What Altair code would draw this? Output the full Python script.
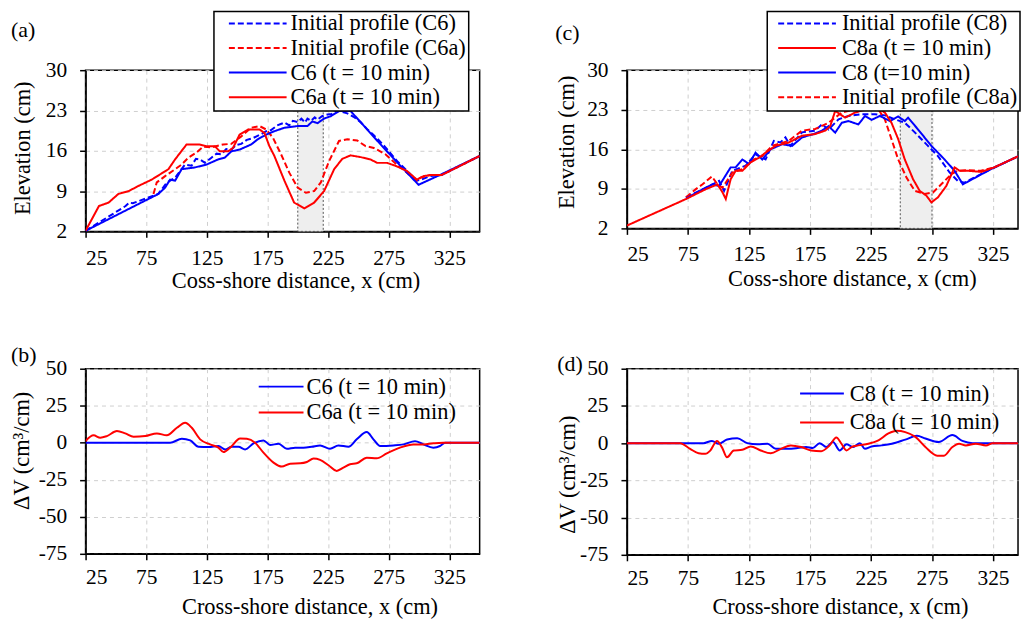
import altair as alt
import pandas as pd

FONT = "Liberation Serif"
BLUE = "#0000ff"
RED = "#ff0000"
X_TICKS = [25, 75, 125, 175, 225, 275, 325]
ELEV_TICKS = [2, 9, 16, 23, 30]
DV_TICKS = [-75, -50, -25, 0, 25, 50]

# ---------------- Panel (a) ----------------
A_X_INIT_C6 = [25, 58, 61, 64, 85, 92, 98.8, 103, 107, 112.4, 116, 119.3, 123.4, 128.8, 133, 137, 141, 145.2, 149,
               153.4, 158, 163, 169.8, 174, 178, 183, 189, 193, 196, 199.9, 203, 206, 208, 211, 214, 216.3, 220,
               224.5, 228, 232.7, 236, 240.8, 246, 251.8, 257, 262.7, 268, 276.4, 282, 287.3, 298.2, 303, 309,
               318.7, 350]
A_Y_INIT_C6 = [2.1, 6.4, 7.0, 6.9, 8.5, 10.5, 11.3, 12.5, 13.6, 13.4, 14.6, 14.5, 13.9, 14.8, 15.5, 15.4, 16.3, 16.2,
               17.0, 17.2, 17.9, 18.2, 18.9, 19.4, 19.6, 20.4, 20.9, 20.4, 21.2, 21.0, 21.6, 20.9, 21.6, 21.2, 21.8,
               21.4, 22.0, 22.3, 22.4, 23.1, 22.8, 22.5, 21.9, 21.0, 19.8, 18.7, 17.6, 15.6, 14.2, 13.1, 10.8, 11.1,
               11.6, 11.8, 15.1]
A_X_INIT_C6A = [81, 83.7, 90.6, 98.8, 104.2, 109.7, 116.5, 122, 128.8, 138.4, 145.2, 153.4, 161.6, 168.4, 173.9,
                179.4, 186.2, 193, 199.9, 206.7, 213.5, 219, 225.8, 234, 240.8, 249, 255.9, 262.7, 272.3, 281.8,
                290, 298.2, 301, 309, 318.7, 350]
A_Y_INIT_C6A = [8.5, 10.5, 11.6, 12.8, 13.6, 14.8, 15.7, 16.7, 16.6, 17.1, 17.2, 18.5, 20.0, 20.3, 19.7, 18.3, 15.4,
                12.2, 9.6, 8.7, 9.0, 10.5, 14.2, 17.7, 18.0, 17.8, 16.8, 16.5, 15.4, 13.6, 12.2, 10.8, 11.3, 11.8,
                11.8, 15.1]
A_X_C6 = [25, 85, 90.6, 94.7, 98.8, 104.2, 115, 124.7, 134.3, 139.8, 145.2, 152, 161.6, 167, 173.9, 180.7, 189,
          199.9, 208, 212, 216.3, 221.7, 227.2, 234, 243.6, 257.2, 270.9, 284.6, 299.6, 317.3, 350]
A_Y_C6 = [2.1, 8.5, 9.6, 11.0, 10.8, 12.8, 13.1, 13.6, 14.5, 14.8, 15.9, 16.2, 17.1, 18.0, 18.8, 19.4, 20.0, 20.3,
          20.3, 21.1, 20.8, 21.6, 22.0, 22.9, 22.9, 19.7, 16.5, 13.4, 10.1, 11.8, 15.1]
A_X_C6A = [25, 36, 44, 52, 60.5, 68.7, 79.6, 93.3, 98.8, 108.3, 119, 124.7, 131.6, 135.7, 142.5, 146.6, 152, 159,
           168.4, 172.5, 176.6, 180.7, 189, 197, 205.3, 213.5, 221.7, 230, 236.7, 243.6, 251.8, 260, 265.4, 273.6,
           280.5, 290, 298.2, 303.7, 310.5, 318.7, 350]
A_Y_C6A = [2.1, 6.4, 7.0, 8.5, 9.0, 9.9, 11.0, 12.8, 14.5, 17.1, 17.1, 16.8, 16.8, 15.9, 15.9, 16.5, 18.8, 19.7,
           19.7, 19.1, 16.8, 15.1, 10.8, 7.0, 6.0, 7.0, 9.0, 12.8, 14.6, 15.2, 14.9, 14.5, 13.9, 13.9, 13.4, 12.5,
           11.0, 11.6, 11.8, 11.8, 15.1]
A_SHADE = [200, 221]

# ---------------- Panel (c) ----------------
C_X_INIT_C8 = [73.4, 89.7, 100.5, 104.6, 111.4, 122.3, 130.4, 138.6, 145.4, 150.8, 154.9, 159, 168.5, 179.3, 184.8,
               190.2, 198.4, 206.5, 217.4, 228.3, 236.4, 244.6, 252.7, 260.9, 271.7, 279.9, 289.4, 296.2, 301.6,
               323.4, 350]
C_Y_INIT_C8 = [7.5, 9.2, 10.4, 8.65, 12.2, 13.1, 15.1, 14.2, 17.5, 17.2, 18.1, 16.6, 19.0, 19.3, 20.4, 19.5, 21.3,
               21.9, 22.2, 22.2, 22.0, 21.3, 20.7, 19.0, 16.6, 14.8, 11.9, 10.4, 10.1, 12.5, 15.2]
C_X_C8A = [25, 73.4, 89.7, 99.2, 103.3, 106, 110, 114.1, 119.6, 126.4, 133.2, 138.6, 146.7, 157.6, 168.5, 179.3,
           187.5, 191.6, 195.7, 199.7, 203.8, 212, 222.8, 231, 236.4, 241.8, 247.3, 252.7, 259.5, 264.9, 270.4,
           274.5, 279.9, 286.7, 293.5, 297.6, 304.3, 315.2, 326.1, 350]
C_Y_C8A = [2.5, 7.2, 8.95, 9.8, 8.4, 7.2, 10.7, 12.2, 12.2, 13.7, 14.5, 15.4, 16.6, 17.2, 18.4, 18.7, 19.3, 20.1,
           22.8, 22.2, 21.6, 22.5, 23.2, 23.2, 22.5, 20.7, 17.8, 14.2, 10.7, 8.65, 7.8, 6.6, 7.5, 9.5, 12.8, 12.2,
           12.2, 12.0, 12.8, 15.2]
C_X_C8 = [73.4, 89.7, 95.1, 100.5, 110, 114.1, 119.6, 125, 130.4, 135.9, 142.7, 152.2, 160.3, 168.5, 178, 184.8,
          190.2, 195.7, 201.1, 206.5, 214.7, 220.1, 225.5, 232.3, 240.5, 247.3, 252.7, 255.4, 263.6, 274.5, 285.3,
          293.5, 300.3, 323.4, 350]
C_Y_C8 = [7.3, 9.2, 9.8, 9.5, 12.8, 12.8, 14.2, 13.4, 15.4, 14.2, 16.0, 16.9, 16.6, 18.1, 18.7, 19.3, 20.1, 18.95,
          20.7, 21.0, 20.4, 21.9, 21.2, 21.9, 21.0, 21.8, 21.0, 21.6, 19.5, 16.6, 14.2, 12.2, 9.8, 12.5, 15.2]
C_X_INIT_C8A = [73.4, 81.5, 87, 94.6, 99.2, 103.3, 111.4, 119.6, 129.1, 135.9, 144, 157.6, 168.5, 179.3, 190.2,
                201.1, 212, 222.8, 231, 236.4, 241.8, 247.3, 254.1, 260.9, 269, 275.8, 282.6, 290.8, 296.2, 304.3,
                315.2, 326.1, 350]
C_Y_INIT_C8A = [7.5, 8.95, 9.8, 11.2, 9.8, 9.2, 11.9, 12.5, 14.2, 14.8, 16.6, 17.5, 19.3, 19.6, 20.7, 22.5, 23.1,
                23.4, 23.1, 21.3, 17.8, 14.2, 11.0, 8.65, 8.1, 8.35, 9.8, 11.6, 12.2, 12.3, 12.2, 12.8, 15.2]
C_SHADE = [249, 275]

# ---------------- Panel (b) ----------------
B_X_C6 = [25, 94.8, 104.4, 111.3, 118.1, 126.4, 134.6, 140.1, 145.6, 151.1, 156.6, 163.5, 171.7, 177.2, 184.1, 191,
          197.8, 204.7, 211.5, 218.4, 226.6, 233.5, 241.8, 248.6, 256.9, 262.4, 267.9, 278.8, 287.1, 296.7, 303.6,
          311.8, 317.3, 321.4, 350]
B_Y_C6 = [0, 0, 2.7, 1.6, -2.7, -2.9, -2.2, -4.5, -2.7, -2.7, -4.5, -0.4, 1.6, -1.5, -0.7, -4.0, -3.3, -3.3, -2.7,
          -1.8, -4.0, -1.8, -2.7, 2.3, 7.2, 2.3, -2.2, -1.8, -1.1, 1.1, -1.1, -3.3, -2.2, 0, 0]
B_X_C6A = [25, 31.6, 37.1, 42.6, 50.8, 57.7, 64.6, 74.2, 83.8, 92, 100.3, 107.1, 112.6, 119.5, 127.7, 134.6, 138.7,
           144.2, 152.5, 158, 164.8, 171.7, 180, 186.8, 193.7, 202, 207.5, 213, 218.4, 225.3, 232.1, 237.6, 243.1,
           248.6, 256.9, 265.1, 273.4, 284.3, 295.3, 303.6, 311.8, 320, 350]
B_Y_C6A = [1.1, 5.0, 3.4, 4.5, 7.9, 6.3, 4.0, 4.5, 6.3, 5.0, 10.1, 13.5, 10.1, 2.3, -1.1, -3.3, -6.3, -3.3, 2.9,
           2.7, 0, -6.7, -13.4, -16.1, -14.1, -13.9, -13.0, -10.7, -11.6, -15.2, -19.0, -16.8, -14.5, -13.9, -10.1,
           -10.5, -7.2, -3.3, -1.1, -1.1, -0.4, 0, 0]

# ---------------- Panel (d) ----------------
D_X_C8 = [25, 87.8, 94.7, 100.2, 107.1, 115.4, 123.6, 131.9, 140.2, 147, 156.7, 164.9, 171.8, 177.3, 182.9, 188.4,
          193.9, 199.4, 204.9, 210.4, 215.9, 220, 225.5, 233.8, 242.1, 253.1, 262.7, 269.6, 280.6, 291.7, 299.9,
          308.2, 350]
D_Y_C8 = [0, 0, 1.5, -0.4, 2.4, 3.3, 0, -0.8, -0.4, -3.8, -3.8, -3.3, -2.6, -3.3, 0, -2.6, 0.8, -4.9, -0.8, -2.6,
          0, -3.8, -2.2, -1.5, -0.4, 2.4, 4.9, 3.1, 0.8, 5.4, 1.5, 0, 0]
D_X_C8A = [25, 68.5, 76.8, 83.7, 89.2, 93.3, 98.8, 103, 107, 112.6, 119.5, 126.4, 134.6, 142.9, 151.2, 159.4, 167.7,
           176, 184.2, 191.1, 196.6, 200.8, 204.9, 209, 214.5, 222.8, 231.1, 239.3, 246.2, 253.1, 261.4, 269.6,
           279.3, 284.8, 291.7, 297.2, 302.7, 310.9, 319.2, 324.7, 350]
D_Y_C8A = [0, 0, -3.8, -6.8, -7.2, -5.0, 1.5, -3.0, -9.5, -4.9, -4.5, -2.2, -4.9, -6.8, -3.8, -1.5, -2.6, -4.9,
           -5.4, -1.5, 3.8, -0.4, -4.9, -2.6, -1.5, -0.4, 1.9, 6.5, 8.3, 7.4, 4.2, -2.6, -8.4, -8.4, -2.6, -0.4,
           -1.5, -0.4, -1.5, 0, 0]

DASH = [6, 3]
SOLID = [1, 0]
TICK_FS = 21.5
TITLE_FS = 22.5
LEG_FS = 22.5


def series_df(items):
    rows = []
    for name, xs, ys in items:
        for i, (x, y) in enumerate(zip(xs, ys)):
            rows.append({"series": name, "x": x, "y": y, "i": i})
    return pd.DataFrame(rows)


def make_panel(items, order, colors, dashes, xdom, ydom, yticks, ytitle, xtitle, w, h,
               xt_pos, yt_pos, xlab_pad, legend_kw, label, label_pos, shade=None, interp="linear"):
    df = series_df(items)
    xscale = alt.Scale(domain=xdom, nice=False, zero=False)
    yscale = alt.Scale(domain=ydom, nice=False, zero=False)
    xaxis = alt.Axis(values=X_TICKS, title=xtitle, titleX=xt_pos[0], titleY=xt_pos[1], titleAlign="center",
                     titleBaseline="middle", labelPadding=xlab_pad, labelBaseline="middle", grid=True)
    yaxis = alt.Axis(values=yticks, title=ytitle, titleX=yt_pos[0], titleY=yt_pos[1], titleAlign="center",
                     titleBaseline="middle", labelPadding=13, grid=True, labelExpr="'' + datum.value")
    leg = alt.Legend(title=None, orient="none", symbolType="stroke", symbolStrokeWidth=2, clipHeight=20,
                     labelLimit=400, labelFont=FONT, labelFontSize=LEG_FS, labelColor="black", **legend_kw)
    enc = dict(
        x=alt.X("x:Q", scale=xscale, axis=xaxis),
        y=alt.Y("y:Q", scale=yscale, axis=yaxis),
        color=alt.Color("series:N", scale=alt.Scale(domain=order, range=colors), legend=leg),
        order=alt.Order("i:Q"),
    )
    if dashes is not None:
        enc["strokeDash"] = alt.StrokeDash("series:N", scale=alt.Scale(domain=order, range=dashes), legend=leg)
    lines = alt.Chart(df).mark_line(strokeWidth=2, clip=True, interpolate=interp).encode(**enc)
    layers = []
    if shade is not None:
        sdf = pd.DataFrame({"x": [shade[0]], "x2": [shade[1]], "y": [ydom[0]], "y2": [ydom[1]]})
        rect = alt.Chart(sdf).mark_rect(fill="#eeeeee", stroke="#555555", strokeDash=[2, 2],
                                        strokeWidth=1).encode(
            x=alt.X("x:Q", scale=xscale, axis=xaxis), x2="x2:Q",
            y=alt.Y("y:Q", scale=yscale, axis=yaxis), y2="y2:Q")
        layers.append(rect)
    layers.append(lines)
    txt = alt.Chart(pd.DataFrame({"t": [label]})).mark_text(
        font=FONT, fontSize=22, align="left", baseline="middle", color="black").encode(
        text="t:N", x=alt.value(label_pos[0]), y=alt.value(label_pos[1]))
    layers.append(txt)
    return alt.layer(*layers).properties(width=w, height=h)


box = dict(strokeColor="black", fillColor="white")

A_ORDER = ["Initial profile (C6)", "Initial profile (C6a)", "C6 (t = 10 min)", "C6a (t = 10 min)"]
panel_a = make_panel(
    [(A_ORDER[0], A_X_INIT_C6, A_Y_INIT_C6), (A_ORDER[1], A_X_INIT_C6A, A_Y_INIT_C6A),
     (A_ORDER[2], A_X_C6, A_Y_C6), (A_ORDER[3], A_X_C6A, A_Y_C6A)],
    A_ORDER, [BLUE, RED, BLUE, RED], [DASH, DASH, SOLID, SOLID],
    [25, 350], [2, 30], ELEV_TICKS, "Elevation (cm)", "Coss-shore distance, x (cm)", 396, 162,
    (211, 49), (-63, 78), 21,
    dict(legendX=129, legendY=-59, padding=2, rowPadding=1.7, symbolOffset=12, symbolSize=3364, labelOffset=3,
         labelExpr="datum.label + '\u00a0\u00a0\u00a0\u00a0'", **box),
    "(a)", (-75, -40), shade=A_SHADE)

C_ORDER = ["Initial profile (C8)", "C8a (t = 10 min)", "C8 (t=10 min)", "Initial profile (C8a)"]
panel_c = make_panel(
    [(C_ORDER[0], C_X_INIT_C8, C_Y_INIT_C8), (C_ORDER[3], C_X_INIT_C8A, C_Y_INIT_C8A),
     (C_ORDER[2], C_X_C8, C_Y_C8), (C_ORDER[1], C_X_C8A, C_Y_C8A)],
    C_ORDER, [BLUE, RED, BLUE, RED], [DASH, SOLID, SOLID, DASH],
    [25, 345.5], [2, 30], ELEV_TICKS, "Elevation (cm)", "Coss-shore distance, x (cm)", 393, 159,
    (226, 50), (-61, 72), 20,
    dict(legendX=141, legendY=-59, padding=2, rowPadding=1.7, symbolOffset=8, symbolSize=3364, labelOffset=5,
         **box),
    "(c)", (-72, -37), shade=C_SHADE)

B_ORDER = ["C6 (t = 10 min)", "C6a (t = 10 min)"]
panel_b = make_panel(
    [(B_ORDER[0], B_X_C6, B_Y_C6), (B_ORDER[1], B_X_C6A, B_Y_C6A)],
    B_ORDER, [BLUE, RED], None,
    [25, 350], [-75, 50], DV_TICKS, "ΔV (cm³/cm)", "Cross-shore distance, x (cm)", 396, 186,
    (225, 53), (-64, 82), 18,
    dict(legendX=173, legendY=8, padding=0, rowPadding=3, symbolOffset=0, symbolSize=2025, labelOffset=2),
    "(b)", (-75, -14), interp="monotone")

D_ORDER = ["C8 (t = 10 min)", "C8a (t = 10 min)"]
panel_d = make_panel(
    [(D_ORDER[0], D_X_C8, D_Y_C8), (D_ORDER[1], D_X_C8A, D_Y_C8A)],
    D_ORDER, [BLUE, RED], None,
    [25, 345.5], [-75, 50], DV_TICKS, "ΔV (cm³/cm)", "Cross-shore distance, x (cm)", 393, 187,
    (214, 52), (-60, 106), 18,
    dict(legendX=173, legendY=15, padding=0, rowPadding=6, symbolOffset=0, symbolSize=1936, labelOffset=5),
    "(d)", (-70, -5), interp="monotone")

chart = alt.concat(
    panel_a, panel_c, panel_b, panel_d, columns=2, spacing={"row": 138, "column": 148}, bounds="flush"
).resolve_scale(
    color="independent", strokeDash="independent"
).properties(
    padding={"left": 10, "top": 8, "right": 0, "bottom": 0}
).configure_view(
    stroke="black", strokeWidth=1.5
).configure_axis(
    domainColor="black", domainWidth=1.5, tickColor="black", tickWidth=1.5, tickSize=6,
    gridColor="#cfcfcf", gridDash=[4, 4], gridWidth=1,
    labelFont=FONT, labelFontSize=TICK_FS, labelColor="black",
    titleFont=FONT, titleFontSize=TITLE_FS, titleFontWeight="normal", titleColor="black"
).configure_legend(
    strokeWidth=1.5
)

chart.save("out.html", embed_options={"renderer": "svg", "actions": False})
